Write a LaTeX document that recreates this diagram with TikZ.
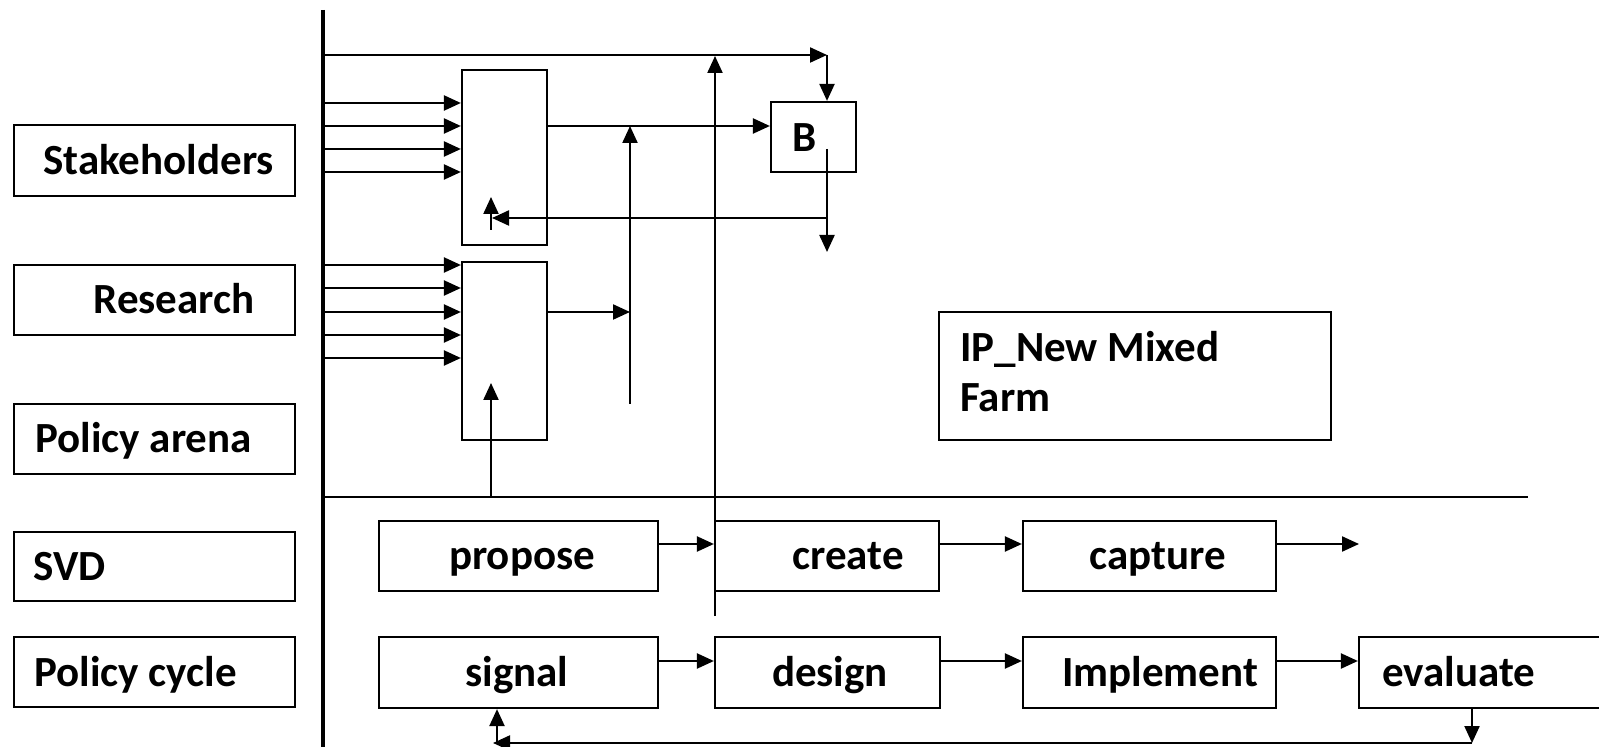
\documentclass[tikz,border=0pt]{standalone}
\usepackage{fontspec}
\setmainfont{Carlito}
\usetikzlibrary{arrows.meta,fit}
\begin{document}
\begin{tikzpicture}[x=0.5pt,y=-0.5pt,
  box/.style={draw, line width=1.1pt, inner sep=0pt},
  txt/.style={font=\fontsize{21.5}{25}\selectfont\bfseries, inner sep=0pt},
  lbl/.style={txt, anchor=base west},
  clbl/.style={txt, anchor=base},
  conn/.style={line width=1.1pt, -{Triangle[length=8.5pt,width=7.5pt]}},
  plain/.style={line width=1.1pt},
  axis/.style={line width=1.6pt}
]
\useasboundingbox (0,0) rectangle (1599,747);
\clip (0,0) rectangle (1599,747);

% row labels on the left
\node[box, fit={(14,125) (295,196)}] (stk) {};
\node[box, fit={(14,265) (295,335)}] (res) {};
\node[box, fit={(14,404) (295,474)}] (pa) {};
\node[box, fit={(14,532) (295,601)}] (svd) {};
\node[box, fit={(14,637) (295,707)}] (pc) {};
\node[lbl] (stkT) at (43,175) {Stakeholders};
\node[lbl] (resT) at (93,314) {Research};
\node[lbl] (paT) at (35,453) {Policy arena};
\node[lbl] (svdT) at (33,581) {SVD};
\node[lbl] (pcT) at (34,686) {Policy cycle};

% main axis and separator
\coordinate (axTop) at (323,10);
\coordinate (axBot) at (323,747);
\draw[axis] (axTop) -- (axBot);
\coordinate (sepL) at (323,497);
\coordinate (sepR) at (1528,497);
\draw[plain] (sepL) -- (sepR);

% upper blocks
\node[box, fit={(462,70) (547,245)}] (b1) {};
\node[box, fit={(462,262) (547,440)}] (b2) {};
\node[box, fit={(771,102) (856,172)}] (B) {};
\node[lbl] (BT) at (792,152) {B};
\node[box, fit={(939,312) (1331,440)}] (ip) {};
\node[lbl] (ipT1) at (960,362) {IP\_New Mixed};
\node[lbl] (ipT2) at (960,412) {Farm};

% inputs from the axis
\foreach \yy in {103,126,149,172}
  \draw[conn] (axTop |- 0,\yy) -- (b1.west |- 0,\yy);
\foreach \yy in {265,288,312,335,358}
  \draw[conn] (axTop |- 0,\yy) -- (b2.west |- 0,\yy);

% top line to B
\coordinate (topR) at (827,55);
\draw[conn] (axTop |- topR) -- (topR);
\draw[conn] (topR) -- (topR |- B.north);

% block outputs
\coordinate (v1Top) at (630,126);
\coordinate (v1Bot) at (630,404);
\draw[conn] (b1.east |- v1Top) -- (B.west |- v1Top);
\draw[conn] (b2.east |- 0,312) -- (v1Top |- 0,312);
\draw[conn] (v1Bot) -- (v1Top);

% long vertical
\coordinate (v2Top) at (715,56);
\coordinate (v2Bot) at (715,616);
\draw[conn] (v2Bot) -- (v2Top);

% feedback from B
\coordinate (fbTop) at (827,149);
\coordinate (fbBot) at (827,252);
\coordinate (fbMid) at (827,218);
\coordinate (fbL) at (492,218);
\draw[conn] (fbTop) -- (fbBot);
\draw[conn] (fbMid) -- (fbL);
\coordinate (upA) at (491,230);
\coordinate (upB) at (491,197);
\draw[conn] (upA) -- (upB);

% from separator into lower block
\coordinate (upC) at (491,383);
\draw[conn] (sepL -| upC) -- (upC);

% SVD row
\node[box, fit={(379,521) (658,591)}] (prop) {};
\node[box, fit={(715,521) (939,591)}] (crea) {};
\node[box, fit={(1023,521) (1276,591)}] (capt) {};
\node[clbl] (propT) at (522,570) {propose};
\node[clbl] (creaT) at (848,570) {create};
\node[clbl] (captT) at (1158,570) {capture};
\coordinate (svdEnd) at (1359,544);
\draw[conn] (prop.east |- svdEnd) -- (crea.west |- svdEnd);
\draw[conn] (crea.east |- svdEnd) -- (capt.west |- svdEnd);
\draw[conn] (capt.east |- svdEnd) -- (svdEnd);

% policy cycle row
\node[box, fit={(379,637) (658,708)}] (sig) {};
\node[box, fit={(715,637) (940,708)}] (des) {};
\node[box, fit={(1023,637) (1276,708)}] (imp) {};
\node[box, fit={(1359,637) (1640,708)}] (eva) {};
\node[clbl] (sigT) at (517,686) {signal};
\node[clbl] (desT) at (830,686) {design};
\node[clbl] (impT) at (1160,686) {Implement};
\node[lbl] (evaT) at (1382,686) {evaluate};
\coordinate (pcY) at (0,661);
\draw[conn] (sig.east |- pcY) -- (des.west |- pcY);
\draw[conn] (des.east |- pcY) -- (imp.west |- pcY);
\draw[conn] (imp.east |- pcY) -- (eva.west |- pcY);

% feedback from evaluate to signal
\coordinate (evD) at (1472,743);
\coordinate (sgL) at (493,743);
\coordinate (sgU) at (497,743);
\draw[conn] (eva.south -| evD) -- (evD);
\draw[conn] (evD) -- (sgL);
\draw[conn] (sgU) -- (sig.south -| sgU);
\end{tikzpicture}
\end{document}
